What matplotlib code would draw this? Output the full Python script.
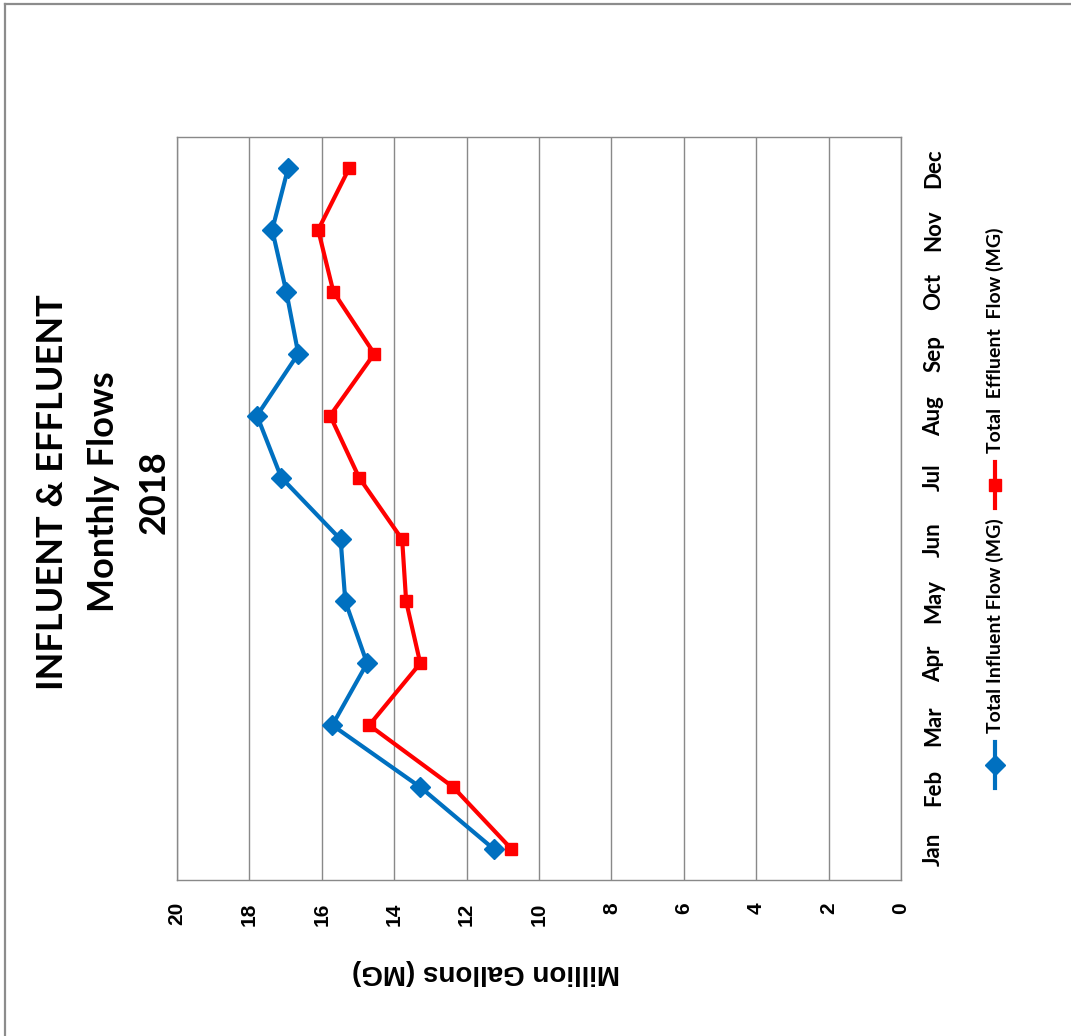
import matplotlib
matplotlib.use("Agg")
import matplotlib.pyplot as plt
from matplotlib.lines import Line2D

# data
months = ['Jan', 'Feb', 'Mar', 'Apr', 'May', 'Jun', 'Jul', 'Aug', 'Sep', 'Oct', 'Nov', 'Dec']
influent = [11.25, 13.28, 15.71, 14.75, 15.35, 15.48, 17.12, 17.79, 16.65, 16.98, 17.37, 16.93]
effluent = [10.76, 12.37, 14.69, 13.28, 13.67, 13.78, 14.97, 15.77, 14.55, 15.68, 16.10, 15.24]
value_ticks = [0, 2, 4, 6, 8, 10, 12, 14, 16, 18, 20]

W, H = 1071, 1036
BLUE = '#0070C0'
RED = '#FF0000'
GRID = '#898989'
TITLE_FONT = ['Lato', 'DejaVu Sans']
NUM_FONT = ['Liberation Sans', 'DejaVu Sans']


def fx(px):
    return px / W


def fy(py):
    return 1 - py / H


fig = plt.figure(figsize=(W / 100, H / 100), dpi=100)
fig.patch.set_facecolor('white')

# outer border (only top and left show in the picture)
fig.add_artist(Line2D([fx(5), fx(W)], [fy(4), fy(4)], color='#8c8c8c', lw=1.6))
fig.add_artist(Line2D([fx(5), fx(5)], [fy(4), fy(H)], color='#8c8c8c', lw=1.6))

# plot area: value axis runs horizontally (20 on the left), months vertically
ax = fig.add_axes([fx(177), fy(880), fx(901) - fx(177), (880 - 137) / H])
pos = list(range(len(months)))
ax.plot(influent, pos, color=BLUE, lw=3, marker='D', markersize=10.5, zorder=3)
ax.plot(effluent, pos, color=RED, lw=3, marker='s', markersize=8, zorder=3)

ax.set_xlim(20, 0)
ax.set_ylim(-0.5, len(months) - 0.5)
ax.set_xticks(value_ticks)
ax.set_xticklabels([str(v) for v in value_ticks], rotation=90,
                   fontsize=15, fontweight='bold', family=NUM_FONT)
ax.set_yticks(pos)
ax.yaxis.tick_right()
ax.set_yticklabels(months, rotation=90, fontsize=16, fontweight='bold', family=TITLE_FONT)
ax.tick_params(axis='x', length=0, pad=16)
ax.tick_params(axis='y', length=0, pad=16)
for lab in ax.get_yticklabels():
    lab.set_verticalalignment('center')
ax.grid(axis='x', color=GRID, lw=1)
ax.set_axisbelow(True)
for sp in ax.spines.values():
    sp.set_color(GRID)
    sp.set_linewidth(1)

# value axis title, drawn upside down like the source
fig.text(fx(486), fy(972), 'Million Gallons (MG)', rotation=180, ha='center', va='center',
         fontsize=20, fontweight='bold', family=NUM_FONT)

# title, three rotated lines
title_lines = ['INFLUENT & EFFLUENT', 'Monthly Flows', '2018']
for x, line in zip([53, 104, 154], title_lines):
    fig.text(fx(x), fy(492), line, rotation=90, ha='center', va='center',
             fontsize=26, fontweight='bold', family=TITLE_FONT)

# legend, rotated
legend_items = [('Total Influent Flow (MG)', BLUE, 'D', 10.5, 765),
                ('Total  Effluent  Flow (MG)', RED, 's', 8, 485)]
for label, col, mk, ms, yc in legend_items:
    fig.add_artist(Line2D([fx(995), fx(995)], [fy(yc + 23), fy(yc - 23)], color=col, lw=3))
    fig.add_artist(Line2D([fx(995)], [fy(yc)], color=col, marker=mk, markersize=ms, lw=0))
    fig.text(fx(995), fy(yc - 32), label, rotation=90, ha='center', va='bottom',
             fontsize=14, fontweight='bold', family=TITLE_FONT)

fig.savefig('out.png', dpi=100)
